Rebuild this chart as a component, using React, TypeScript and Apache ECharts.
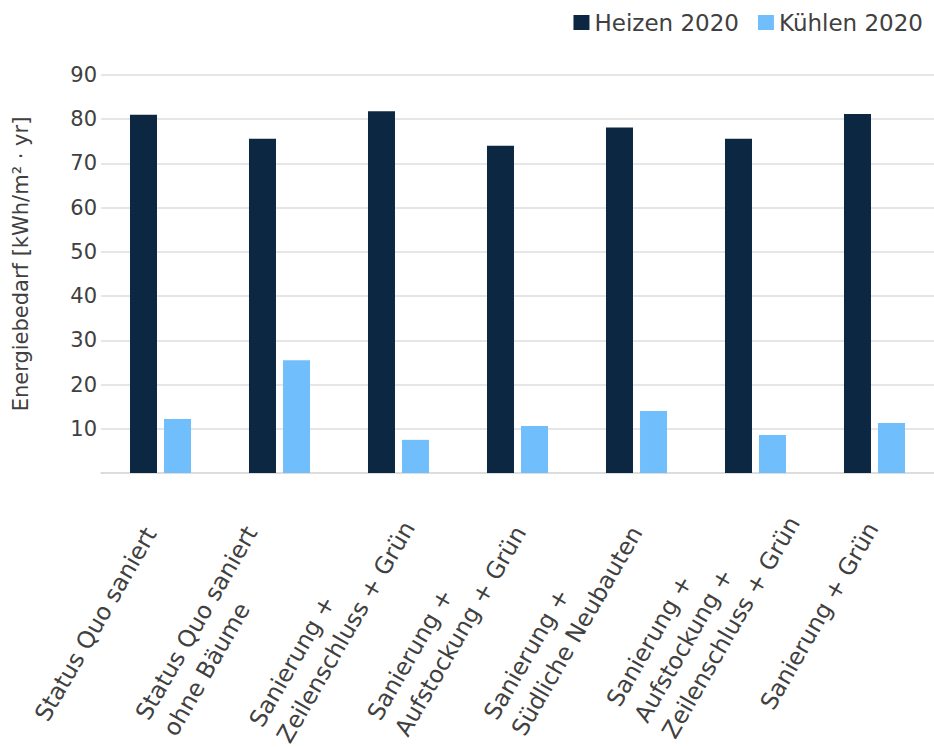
import React, { useEffect, useRef } from "react";
import * as echarts from "echarts";

const categories = [
  "Status Quo saniert",
  "Status Quo saniert\nohne Bäume",
  "Sanierung +\nZeilenschluss + Grün",
  "Sanierung +\nAufstockung + Grün",
  "Sanierung +\nSüdliche Neubauten",
  "Sanierung +\nAufstockung +\nZeilenschluss + Grün",
  "Sanierung + Grün",
];
const heizen2020 = [81.0, 75.6, 81.8, 74.0, 78.1, 75.6, 81.2];
const kuehlen2020 = [12.2, 25.5, 7.5, 10.6, 14.0, 8.6, 11.3];
const seriesNames = ["Heizen 2020", "Kühlen 2020"];
const yTicks = { min: 0, max: 90, interval: 10 };
const yAxisTitle = "Energiebedarf [kWh/m² · yr]";

// layout only: per-label padding [top, right, bottom, left] to place rotated labels
const labelPadding = [
  [19, 36.5, 0, 0],
  [18, 44.5, 0, 0],
  [16, 21, 0, 0],
  [7.5, 29, 0, 0],
  [3, 30.5, 0, 0],
  [28, 3, 0, 0],
  [27.5, 28, 0, 0],
];

const FONT = "DejaVu Sans";
const TEXT = "#404040";

export default function App() {
  const ref = useRef<HTMLDivElement>(null);
  useEffect(() => {
    if (!ref.current) return;
    const chart = echarts.init(ref.current, undefined, { renderer: "svg" });
    chart.setOption({
      animation: false,
      backgroundColor: "#ffffff",
      textStyle: { fontFamily: FONT, color: TEXT },
      legend: {
        right: 6,
        top: 6,
        itemWidth: 16,
        itemHeight: 15,
        itemGap: 19,
        icon: "rect",
        textStyle: { fontFamily: FONT, fontSize: 23, color: TEXT },
        data: seriesNames,
      },
      grid: {
        left: 101,
        right: 0,
        top: 75,
        height: 398,
        containLabel: false,
        outerBoundsMode: "none",
      },
      xAxis: {
        type: "category",
        data: categories.map((c, i) => ({
          value: c,
          textStyle: { padding: labelPadding[i] },
        })),
        axisLine: { show: true, lineStyle: { color: "#d9d9d9", width: 1.5 } },
        axisTick: { show: false },
        axisLabel: {
          interval: 0,
          rotate: 60,
          margin: 20,
          fontFamily: FONT,
          fontSize: 23.5,
          lineHeight: 32,
          color: TEXT,
          formatter: (v: string) =>
            v
              .split("\n")
              .map((s) => `{l|${s}}`)
              .join("\n"),
          rich: {
            l: {
              align: "left",
              fontFamily: FONT,
              fontSize: 23.5,
              lineHeight: 32,
              color: TEXT,
            },
          },
        },
      },
      yAxis: {
        type: "value",
        min: yTicks.min,
        max: yTicks.max,
        interval: yTicks.interval,
        axisLine: { show: false },
        axisTick: { show: false },
        splitLine: { lineStyle: { color: "#dedede", width: 1.5 } },
        axisLabel: {
          margin: 4,
          fontFamily: FONT,
          fontSize: 21,
          color: TEXT,
          formatter: (v: number) => (v === 0 ? "" : String(v)),
        },
      },
      graphic: [
        {
          type: "text",
          x: 21,
          y: 264,
          rotation: Math.PI / 2,
          style: {
            text: yAxisTitle,
            fontFamily: FONT,
            fontSize: 21,
            fill: TEXT,
            align: "center",
            verticalAlign: "middle",
          },
        },
      ],
      series: [
        {
          name: seriesNames[0],
          type: "bar",
          data: heizen2020,
          barWidth: 27,
          barGap: "26%",
          itemStyle: { color: "#0b2742" },
        },
        {
          name: seriesNames[1],
          type: "bar",
          data: kuehlen2020,
          barWidth: 27,
          itemStyle: { color: "#70bffc" },
        },
      ],
    });
    return () => chart.dispose();
  }, []);
  return (
    <div
      ref={ref}
      style={{ position: "fixed", left: 0, top: 0, width: 934, height: 747, background: "#fff" }}
    />
  );
}
